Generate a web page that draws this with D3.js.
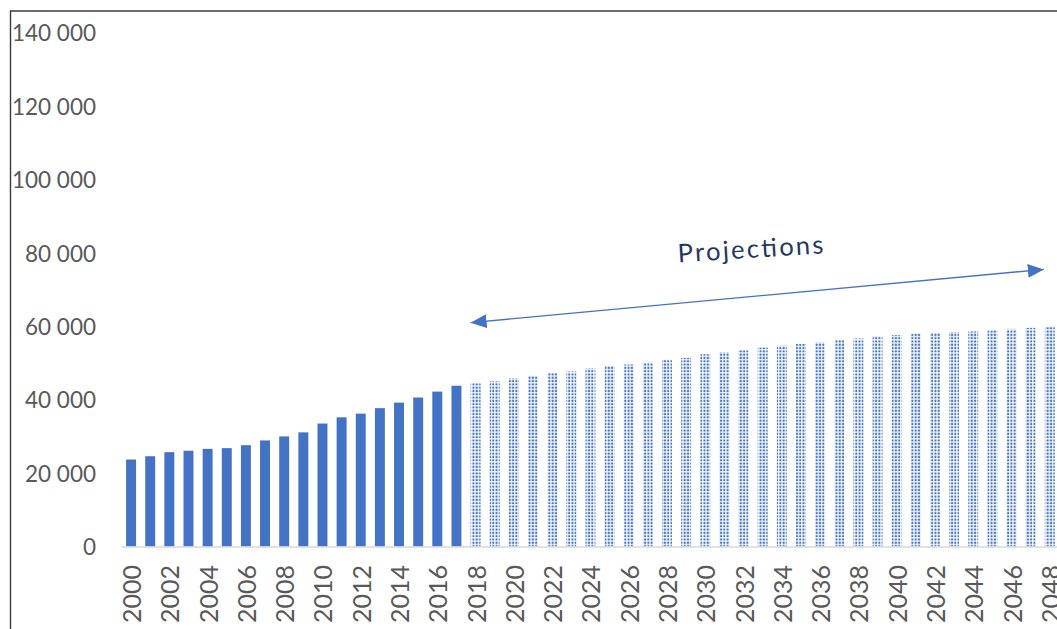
<!DOCTYPE html>
<html>
<head>
<meta charset="utf-8">
<script src="https://cdn.jsdelivr.net/npm/d3@7"></script>
<style>
  html, body { margin: 0; padding: 0; background: #fff; }
  svg { display: block; }
</style>
</head>
<body>
<svg id="chart" width="1057" height="629"></svg>
<script>
// Yearly totals: recorded (2000–2017) and projected (2018–2048)
const observedYears = [2000, 2001, 2002, 2003, 2004, 2005, 2006, 2007, 2008, 2009,
  2010, 2011, 2012, 2013, 2014, 2015, 2016, 2017];
const observedValues = [23700, 24600, 25700, 26100, 26600, 26800, 27600, 28900, 30000, 31100,
  33500, 35200, 36200, 37700, 39200, 40600, 42200, 43800];

const projectedYears = [2018, 2019, 2020, 2021, 2022, 2023, 2024, 2025, 2026, 2027,
  2028, 2029, 2030, 2031, 2032, 2033, 2034, 2035, 2036, 2037,
  2038, 2039, 2040, 2041, 2042, 2043, 2044, 2045, 2046, 2047, 2048];
const projectedValues = [44500, 45000, 45800, 46500, 47300, 47700, 48500, 49200, 49600, 50200,
  50900, 51400, 52400, 53000, 53500, 54200, 54700, 55200, 55600, 56400,
  56700, 57300, 57600, 58000, 58200, 58400, 58600, 58900, 59300, 59600, 59900];

const yTicks = [0, 20000, 40000, 60000, 80000, 100000, 120000, 140000];
const xTickLabels = ["2000", "2002", "2004", "2006", "2008", "2010", "2012", "2014", "2016",
  "2018", "2020", "2022", "2024", "2026", "2028", "2030", "2032", "2034", "2036", "2038",
  "2040", "2042", "2044", "2046", "2048"];

const annotationText = "Projections";

const W = 1057, H = 629;
const blue = "#4472C4";
const svg = d3.select("#chart");

const allYears = observedYears.concat(projectedYears).map(String);
const step = 19.14;
const x = d3.scaleBand()
  .domain(allYears)
  .range([121.5, 121.5 + step * allYears.length])
  .paddingInner(0.48)
  .paddingOuter(0.24);

const y = d3.scaleLinear().domain([0, 140000]).range([546.5, 32.7]);

// dotted fill for projected bars
const defs = svg.append("defs");
const pat = defs.append("pattern")
  .attr("id", "dots")
  .attr("patternUnits", "userSpaceOnUse")
  .attr("width", 3.3).attr("height", 3.3);
pat.append("rect").attr("x", 0.5).attr("y", 0.5)
  .attr("width", 2.1).attr("height", 2.1)
  .attr("fill", blue);

const fmt = v => d3.format(",")(v).replace(/,/g, " ");

// y axis labels
const yAxis = d3.axisLeft(y).tickValues(yTicks).tickFormat(fmt).tickSize(0).tickPadding(0);
const gy = svg.append("g").attr("transform", "translate(96,0)").call(yAxis);
gy.select(".domain").remove();
gy.selectAll("text")
  .attr("fill", "#595959")
  .attr("font-family", "Lato, 'Open Sans', sans-serif")
  .attr("font-size", 22.5)
  .attr("dy", "0.36em");

// bars
const observed = observedYears.map((yr, i) => ({ year: String(yr), value: observedValues[i] }));
const projected = projectedYears.map((yr, i) => ({ year: String(yr), value: projectedValues[i] }));

svg.append("g").selectAll("rect").data(observed).join("rect")
  .attr("x", d => x(d.year))
  .attr("width", x.bandwidth())
  .attr("y", d => y(d.value))
  .attr("height", d => y(0) - y(d.value))
  .attr("fill", blue);

svg.append("g").selectAll("rect").data(projected).join("rect")
  .attr("x", d => x(d.year))
  .attr("width", x.bandwidth())
  .attr("y", d => y(d.value))
  .attr("height", d => y(0) - y(d.value))
  .attr("fill", "url(#dots)");

// category axis line
svg.append("line")
  .attr("x1", 121.5).attr("x2", W)
  .attr("y1", y(0) + 0.5).attr("y2", y(0) + 0.5)
  .attr("stroke", "#d9d9d9").attr("stroke-width", 1.6);

// x axis labels (every other year, rotated)
const xAxis = d3.axisBottom(x)
  .tickValues(xTickLabels)
  .tickSize(0).tickPadding(0);
const gx = svg.append("g").attr("transform", "translate(0,565)").call(xAxis);
gx.select(".domain").remove();
gx.selectAll("text")
  .attr("fill", "#595959")
  .attr("font-family", "Lato, 'Open Sans', sans-serif")
  .attr("font-size", 25)
  .attr("text-anchor", "end")
  .attr("transform", "rotate(-90)")
  .attr("x", 0)
  .attr("y", 0)
  .attr("dy", "0.36em");
gx.selectAll(".tick").attr("transform", d => `translate(${x(d) + x.bandwidth() / 2 + 1},0)`);

// double-headed arrow spanning the projection period
const markerDefs = (id, orient) => {
  defs.append("marker")
    .attr("id", id)
    .attr("viewBox", "0 0 16 14")
    .attr("refX", 16).attr("refY", 7)
    .attr("markerWidth", 16).attr("markerHeight", 14)
    .attr("markerUnits", "userSpaceOnUse")
    .attr("orient", orient)
    .append("path")
    .attr("d", "M0,0 L16,7 L0,14 Z")
    .attr("fill", blue);
};
markerDefs("arrowEnd", "auto");
markerDefs("arrowStart", "auto-start-reverse");

const arrowStart = [x("2018"), y(61000)];
const arrowEnd = [x("2047") + step * 0.95, y(75500)];
svg.append("line")
  .attr("x1", arrowStart[0]).attr("y1", arrowStart[1])
  .attr("x2", arrowEnd[0]).attr("y2", arrowEnd[1])
  .attr("stroke", blue).attr("stroke-width", 1.4)
  .attr("marker-start", "url(#arrowStart)")
  .attr("marker-end", "url(#arrowEnd)");

const labelPos = [x("2029") - 3, y(77400)];
svg.append("text")
  .attr("transform", `translate(${labelPos[0]},${labelPos[1]}) rotate(-3.6)`)
  .attr("fill", "#1F3864")
  .attr("font-family", "Lato, 'Open Sans', sans-serif")
  .attr("font-size", 25.5)
  .attr("textLength", 146)
  .attr("lengthAdjust", "spacing")
  .text(annotationText);

// frame
svg.append("path")
  .attr("d", `M10.5,${H} L10.5,11 L${W},11`)
  .attr("fill", "none")
  .attr("stroke", "#3a3a3a")
  .attr("stroke-width", 1.4);
</script>
</body>
</html>
